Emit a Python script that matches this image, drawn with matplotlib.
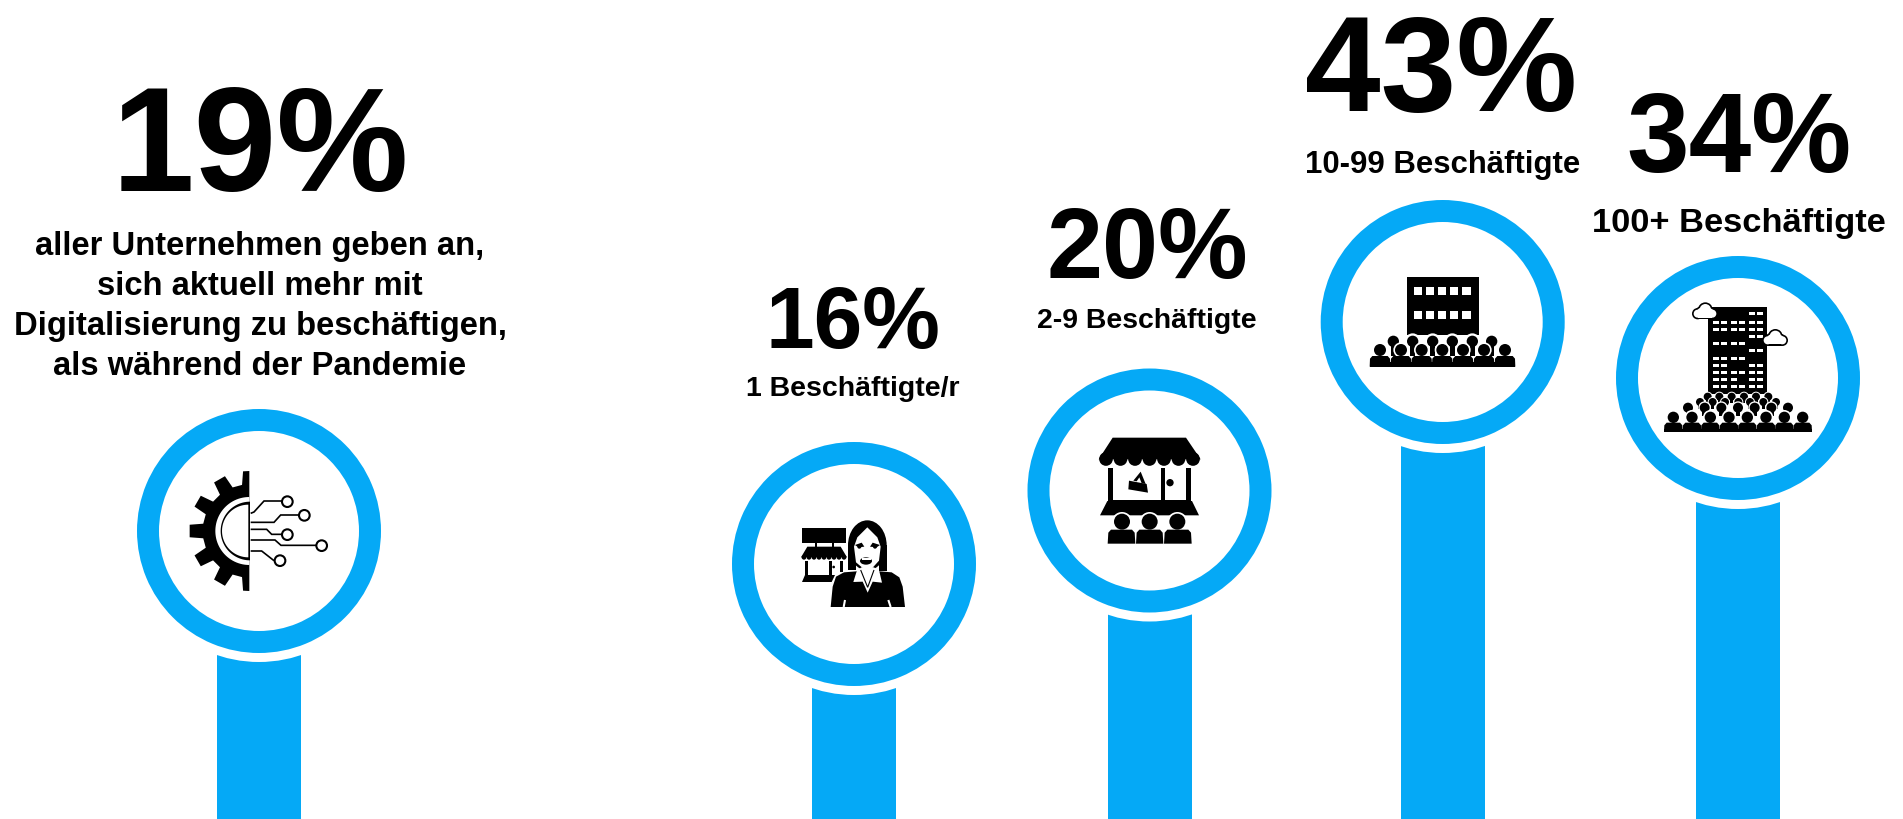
import numpy as np
import matplotlib
matplotlib.use("Agg")
import matplotlib.pyplot as plt
from matplotlib.patches import Circle, Polygon, Rectangle, Wedge, Ellipse
from matplotlib.lines import Line2D
from matplotlib.transforms import Affine2D

# Daten aus dem Bild
value_labels = ["19%", "16%", "20%", "43%", "34%"]
group_labels = [
    "aller Unternehmen geben an,\nsich aktuell mehr mit\nDigitalisierung zu beschäftigen,\nals während der Pandemie",
    "1 Beschäftigte/r",
    "2-9 Beschäftigte",
    "10-99 Beschäftigte",
    "100+ Beschäftigte",
]
stem_heights = [288, 255, 328.5, 497, 441]

# Layout in Pixeln
W, H = 1903, 819
BLUE = "#05A9F6"
x_pos = [259, 854, 1149.5, 1442.7, 1738]
value_x = [260, 852.5, 1147, 1441, 1739]
value_base = [191, 348, 278, 111, 172]
value_size = [107, 63, 72.5, 98, 81]
label_x = [260, 852.5, 1147, 1443, 1739]
label_base = [375, 396, 328, 173, 232]
label_size = [23.6, 20.5, 20.4, 22.4, 24.8]
icon_origin = [(120, 390), (720, 430), (1020, 360), (1310, 200), (1610, 260)]

plt.rcParams["font.family"] = ["Liberation Sans", "DejaVu Sans"]
plt.rcParams["font.weight"] = "bold"

fig = plt.figure(figsize=(W / 100, H / 100), dpi=100)
ax = fig.add_axes([0, 0, 1, 1])
ax.set_xlim(0, W)
ax.set_ylim(0, H)
ax.axis("off")


class Icon:
    """Zeichnet in den Koordinaten eines 3x-Ausschnitts (y nach unten)"""

    def __init__(self, ox, oy):
        self.tr = Affine2D().scale(1 / 3, -1 / 3).translate(ox, H - oy) + ax.transData

    def poly(self, pts, color="black"):
        ax.add_patch(Polygon(pts, closed=True, fc=color, ec="none", transform=self.tr, zorder=5))

    def rect(self, x0, y0, x1, y1, color="black"):
        ax.add_patch(Rectangle((x0, y0), x1 - x0, y1 - y0, fc=color, ec="none", transform=self.tr, zorder=5))

    def circ(self, x, y, r, color="black"):
        ax.add_patch(Circle((x, y), r, fc=color, ec="none", transform=self.tr, zorder=5))

    def ell(self, x, y, w, h, color="black"):
        ax.add_patch(Ellipse((x, y), w, h, fc=color, ec="none", transform=self.tr, zorder=5))

    def ring(self, x, y, r, lw=1.5):
        ax.add_patch(Circle((x, y), r, fc="white", ec="black", lw=lw, transform=self.tr, zorder=5))

    def line(self, pts, lw=1.2, color="black"):
        xs, ys = zip(*pts)
        ax.add_line(Line2D(xs, ys, color=color, lw=lw, transform=self.tr, zorder=5,
                           solid_capstyle="butt", solid_joinstyle="miter"))


def half_disc(cx, cy, r):
    t = np.radians(np.linspace(90, 270, 50))
    return [(cx + r * np.cos(a), cy - r * np.sin(a)) for a in t]


def icon_gear(ic):
    cx, cy = 388, 423
    pts = [(cx, cy - 180)]
    for a in range(90, 271, 30):
        for da, r in [(-9, 140), (-6, 180), (6, 180), (9, 140)]:
            if a + da < 90 or a + da > 270:
                continue
            t = np.radians(a + da)
            pts.append((cx + r * np.cos(t), cy - r * np.sin(t)))
    pts.append((cx, cy + 180))
    ic.poly(pts)
    ic.poly(half_disc(cx, cy, 102), "white")
    ic.poly(half_disc(cx + 2, cy, 88))
    ic.poly(half_disc(cx - 3, cy, 79), "white")
    wires = [
        ([(392, 370), (402, 366), (432, 333), (487, 333)], (502, 335)),
        ([(392, 397), (462, 397), (482, 375), (537, 375)], (553, 376)),
        ([(392, 418), (440, 418), (455, 433), (487, 433)], (502, 434)),
        ([(392, 450), (465, 450), (483, 466), (588, 466)], (605, 467)),
        ([(392, 483), (425, 483), (462, 512)], (480, 512)),
    ]
    for pts, (x, y) in wires:
        ic.line(pts)
        ic.ring(x, y, 16)


def icon_woman(ic):
    # Laden
    ic.rect(245, 294, 378, 340)
    ic.rect(284, 340, 290, 352)
    ic.rect(335, 340, 341, 352)
    ic.poly([(262, 350), (362, 350), (381, 382), (243, 382)])
    for i in range(9):
        ic.circ(252 + i * 15, 382, 7)
    ic.rect(255, 392, 263, 442)
    ic.rect(328, 392, 335, 435)
    ic.rect(361, 392, 368, 425)
    ic.circ(341, 411, 4)
    ic.poly([(255, 435), (345, 435), (335, 456), (246, 456)])
    # Haare und Gesicht
    ic.poly([(332, 531), (338, 470), (348, 440), (372, 427), (410, 424), (478, 424),
             (515, 427), (538, 442), (548, 470), (555, 531)])
    ic.ell(442, 346, 116, 150)
    ic.rect(384, 346, 408, 420)
    ic.rect(478, 346, 500, 422)
    ic.poly([(442, 292), (472, 322), (482, 350), (477, 392), (457, 414), (428, 414),
             (408, 397), (402, 350), (412, 322)], "white")
    ic.poly([(405, 345), (425, 338), (433, 350), (415, 352)])
    ic.poly([(480, 345), (458, 338), (450, 350), (470, 352)])
    ic.circ(418, 350, 6)
    ic.circ(465, 350, 6)
    ic.ell(438, 393, 36, 22)
    ic.rect(425, 385, 452, 391, "white")
    # Kragen
    ic.poly([(410, 424), (400, 456), (428, 455), (443, 488), (458, 455), (486, 458), (478, 424),
             (462, 412), (424, 412)], "white")
    ic.line([(422, 420), (443, 472), (462, 420)], lw=0.8)
    ic.line([(375, 510), (371, 531)], lw=1.5, color="white")
    ic.line([(505, 510), (512, 531)], lw=1.5, color="white")


def icon_kiosk(ic):
    ic.poly([(278, 233), (498, 233), (542, 298), (236, 298)])
    for i in range(7):
        ic.circ(258 + i * 43.5, 297, 20.5)
    for x0, x1 in [(265, 280), (422, 436), (498, 513)]:
        ic.rect(x0, 323, x1, 425)
    ic.rect(280, 420, 498, 425)
    ic.poly([(262, 423), (516, 423), (537, 466), (240, 466)])
    ic.poly([(327, 362), (380, 372), (384, 398), (325, 388)])
    ic.poly([(340, 362), (362, 335), (377, 372), (365, 370), (358, 352), (350, 364)])
    ic.circ(450, 368, 11)
    for x in (306, 389, 472):
        ic.circ(x, 487, 31, "white")
    for x, x0, x1 in [(306, 263, 346), (389, 348, 430), (472, 432, 515)]:
        ic.circ(x, 485, 24)
        ic.poly([(x0, 551), (x0 + 2, 518), (x0 + 10, 509), (x1 - 10, 509), (x1 - 2, 518), (x1, 551)])


def person_row(ic, xs, y, r, halo, stem=0, body=None):
    for x in xs:
        ic.circ(x, y, halo, "white")
    for x in xs:
        if stem:
            ic.rect(x - r * 0.45, y, x + r * 0.45, y + stem)
        ic.circ(x, y, r)
    if body:
        w, top, bottom = body
        for x in xs:
            ic.poly([(x - w, bottom), (x - w + 1, top + 8), (x - w + 8, top), (x + w - 8, top),
                     (x + w - 1, top + 8), (x + w, bottom)])
        ic.rect(xs[0] - w, top + 19, xs[-1] + w, bottom)


def icon_office(ic):
    ic.rect(290, 230, 506, 405)
    for y in (261, 333):
        for x in (312, 348, 384, 420, 457):
            ic.rect(x, y, x + 25, y + 25, "white")
    person_row(ic, [250, 308, 368, 427, 487, 545], 424, 17, 24, stem=45)
    person_row(ic, [210, 273, 335, 397, 459, 522, 585], 450, 18, 23, body=(31, 468, 500))


def cloud(ic, x, y):
    for extra, col in [(5, "black"), (0, "white")]:
        ic.circ(x - 22, y + 6, 12 + extra, col)
        ic.circ(x + 22, y + 6, 12 + extra, col)
        ic.circ(x + 1, y - 6, 17 + extra, col)
        ic.circ(x - 10, y + 2, 14 + extra, col)
        ic.circ(x + 14, y + 2, 12 + extra, col)
        ic.rect(x - 22, y + 4, x + 22, y + 18 + extra, col)


def icon_tower(ic):
    ic.rect(295, 142, 472, 402)
    cols = [308, 332, 363, 387, 418, 442]
    rows = {160: [4, 5], 187: [0, 1, 2, 3, 4, 5], 209: [0, 1, 2, 3, 4, 5], 230: [4, 5],
            251: [0, 1, 2, 3], 272: [4, 5], 295: [0, 1, 2, 3], 316: [0, 1, 4, 5],
            338: [0, 1, 2, 3, 4, 5], 358: [0, 1, 2, 4, 5], 380: [0, 1, 2, 3, 4, 5]}
    for y, idx in rows.items():
        for i in idx:
            ic.rect(cols[i], y - 5, cols[i] + 18, y + 5, "white")
    cloud(ic, 285, 155)
    cloud(ic, 495, 235)
    person_row(ic, [293, 328, 365, 402, 438, 475], 410, 12, 15, stem=20)
    person_row(ic, [270, 308, 345, 385, 420, 460, 498], 426, 12, 15, stem=20)
    person_row(ic, [234, 284, 334, 384, 434, 484, 534], 443, 15, 19, stem=25)
    person_row(ic, [190, 246, 301, 357, 412, 468, 523, 578], 472, 17, 22, body=(28, 488, 515))


icons = [icon_gear, icon_woman, icon_kiosk, icon_office, icon_tower]

ax.bar(x_pos, stem_heights, width=84, color=BLUE, zorder=1)

for i, height in enumerate(stem_heights):
    ax.add_patch(Circle((x_pos[i], height), 131, fc="white", ec="none", zorder=2))
    ax.add_patch(Wedge((x_pos[i], height), 122, 0, 360, width=22, fc=BLUE, ec="none", zorder=3))
    icons[i](Icon(*icon_origin[i]))

    ax.text(value_x[i], H - value_base[i], value_labels[i], fontsize=value_size[i],
            ha="center", va="baseline", color="black")
    ax.text(label_x[i], H - label_base[i], group_labels[i], fontsize=label_size[i],
            ha="center", va="baseline", color="black", linespacing=1.37, multialignment="center")

fig.savefig("out.png", dpi=100)
